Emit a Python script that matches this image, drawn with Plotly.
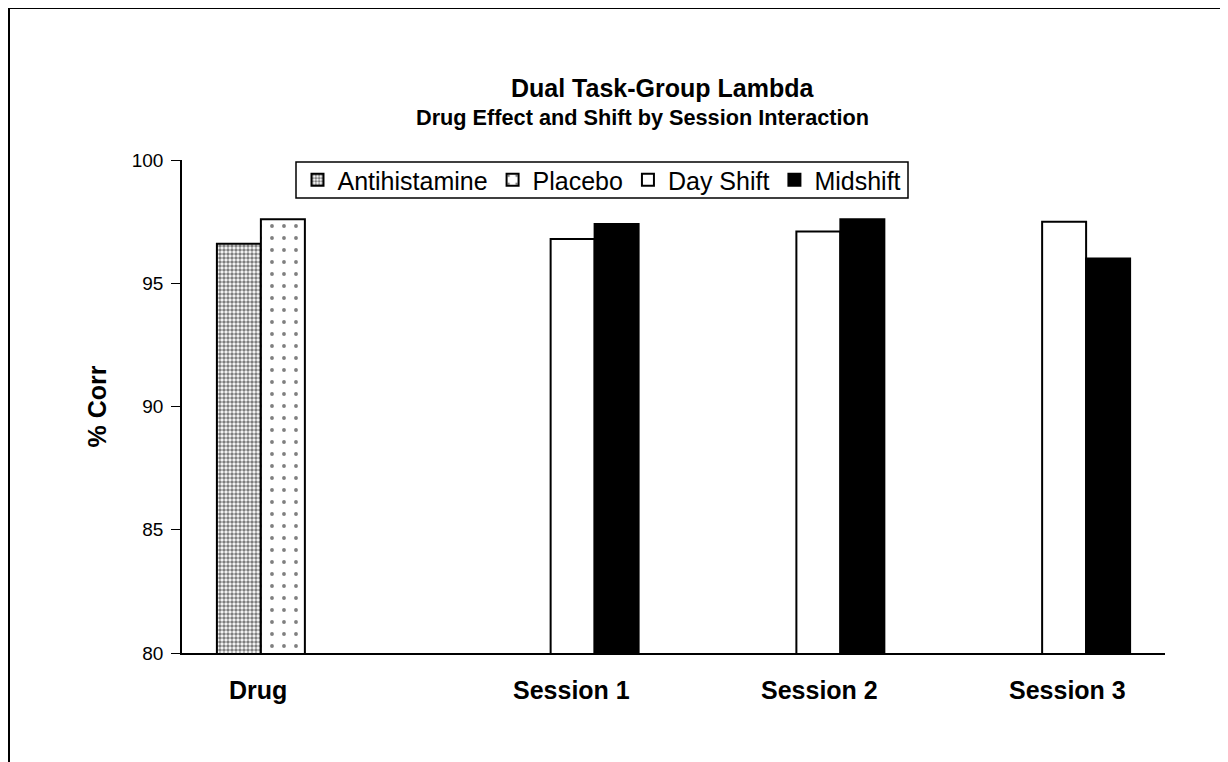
import plotly.graph_objects as go

categories = ["Drug", "Session 1", "Session 2", "Session 3"]
antihistamine = [96.6, None, None, None]
placebo = [97.6, None, None, None]
day_shift = [None, 96.8, 97.1, 97.5]
midshift = [None, 97.4, 97.6, 96.0]
y_ticks = [80, 85, 90, 95, 100]
# horizontal offsets of the category labels (labels sit under the drawn bars)
label_shift = [-47, 21, 23, 25]

FONT = "Liberation Sans, Arial, sans-serif"

fig = go.Figure()
fig.add_trace(go.Bar(
    name="Antihistamine", x=categories, y=antihistamine,
    marker=dict(color="white", line=dict(color="black", width=2),
                pattern=dict(shape=".", fgcolor="black", bgcolor="white", size=4, solidity=0.6)),
))
fig.add_trace(go.Bar(
    name="Placebo", x=categories, y=placebo,
    marker=dict(color="white", line=dict(color="black", width=2),
                pattern=dict(shape=".", fgcolor="black", bgcolor="white", size=12, solidity=0.08)),
))
fig.add_trace(go.Bar(
    name="Day Shift", x=categories, y=day_shift,
    marker=dict(color="white", line=dict(color="black", width=2)),
))
fig.add_trace(go.Bar(
    name="Midshift", x=categories, y=midshift,
    marker=dict(color="black", line=dict(color="black", width=2)),
))

annotations = [
    dict(text="<b>Dual Task-Group Lambda</b>", xref="paper", yref="paper",
         x=(662 - 182) / 983, y=(653 - 88) / 493, xanchor="center", yanchor="middle",
         showarrow=False, font=dict(size=25, family=FONT)),
    dict(text="<b>Drug Effect and Shift by Session Interaction</b>", xref="paper", yref="paper",
         x=(642 - 182) / 983, y=(653 - 118) / 493, xanchor="center", yanchor="middle",
         showarrow=False, font=dict(size=21.7, family=FONT)),
]
for cat, dx in zip(categories, label_shift):
    annotations.append(dict(
        text=f"<b>{cat}</b>", x=cat, xref="x", y=0, yref="paper",
        xanchor="center", yanchor="middle", yshift=-37, xshift=dx,
        showarrow=False, font=dict(size=25, family=FONT)))

# page has an 8px body margin, so the figure is 8px smaller and margins shifted
fig.update_layout(
    width=1220, height=754,
    margin=dict(l=174, r=63, t=152, b=109),
    paper_bgcolor="white", plot_bgcolor="white",
    font=dict(family=FONT, color="black"),
    barmode="group", bargap=0.284, bargroupgap=0,
    showlegend=True,
    legend=dict(
        orientation="h", x=(602 - 182) / 983, xanchor="center",
        y=(653 - 180) / 493, yanchor="middle",
        borderwidth=0, bgcolor="rgba(0,0,0,0)",
        font=dict(size=25, family=FONT), itemwidth=30,
        tracegroupgap=0,
    ),
    xaxis=dict(
        showline=True, linecolor="black", linewidth=1.5,
        ticks="", showgrid=False, showticklabels=False,
    ),
    yaxis=dict(
        range=[80, 100], tickvals=y_ticks,
        showline=True, linecolor="black", linewidth=1.5,
        ticks="outside", ticklen=9, tickwidth=1.2, tickcolor="black",
        showgrid=False, zeroline=False,
        tickfont=dict(size=19, family=FONT),
        ticklabelstandoff=4,
        title=dict(text="% Corr", font=dict(size=25, family=FONT, weight="bold"), standoff=18),
    ),
    annotations=annotations,
    shapes=[
        dict(type="rect", xref="paper", yref="paper",
             x0=(9 - 182) / 983, x1=(1260 - 182) / 983,
             y0=(653 - 800) / 493, y1=(653 - 8) / 493,
             line=dict(color="black", width=2), fillcolor="rgba(0,0,0,0)", layer="below"),
        dict(type="rect", xref="paper", yref="paper",
             x0=(296 - 182) / 983, x1=(908 - 182) / 983,
             y0=(653 - 198) / 493, y1=(653 - 162) / 493,
             line=dict(color="black", width=1.5), fillcolor="white", layer="above"),
    ],
)

fig.write_html("out.html")
